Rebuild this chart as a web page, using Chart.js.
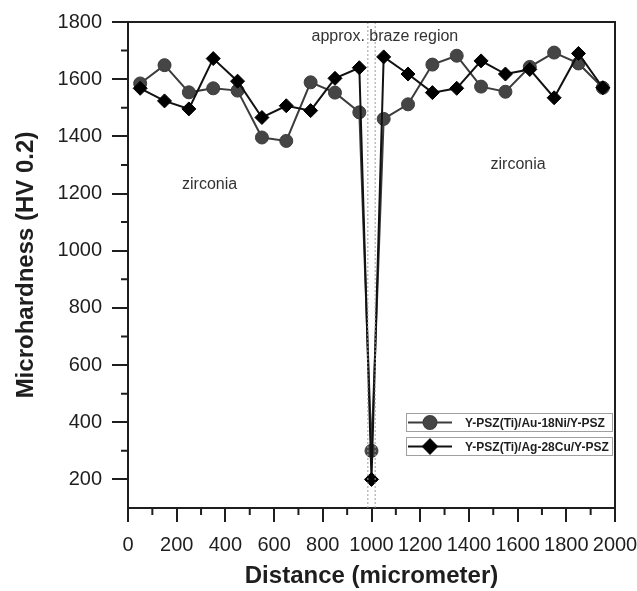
<!DOCTYPE html>
<html>
<head>
<meta charset="utf-8">
<script src="https://cdn.jsdelivr.net/npm/chart.js@4.4.1/dist/chart.umd.min.js"></script>
<style>
html, body { margin: 0; padding: 0; background: #fff; }
</style>
</head>
<body>
<canvas id="hardnessChart" width="637" height="591"></canvas>
<script>
// indent positions across the joint (micrometer)
const distance = [50, 150, 250, 350, 450, 550, 650, 750, 850, 950,
    1000,
    1050, 1150, 1250, 1350, 1450, 1550, 1650, 1750, 1850, 1950];

// HV 0.2 values
const auNiHardness = [1585, 1649, 1554, 1568, 1560, 1396, 1384, 1589, 1553, 1484,
    300,
    1461, 1512, 1651, 1682, 1574, 1556, 1643, 1693, 1655, 1570];
const agCuHardness = [1568, 1524, 1496, 1672, 1593, 1466, 1507, 1490, 1603, 1640,
    200,
    1678, 1618, 1553, 1568, 1664, 1618, 1634, 1535, 1690, 1570];

const seriesNames = ["Y-PSZ(Ti)/Au-18Ni/Y-PSZ", "Y-PSZ(Ti)/Ag-28Cu/Y-PSZ"];

const xTickValues = [0, 200, 400, 600, 800, 1000, 1200, 1400, 1600, 1800, 2000];
const yTickValues = [200, 400, 600, 800, 1000, 1200, 1400, 1600, 1800];

// edges of the braze region (dotted lines)
const brazeEdges = [985, 1015];

// region notes, placed in data units
const noteTexts = ["approx. braze region", "zirconia", "zirconia"];
const noteX = [1055, 335, 1602];
const noteY = [1748, 1232, 1302];

const FONT = "'Liberation Sans', Arial, sans-serif";
const INK = "#1e1e1e";

const toPoints = (xs, ys) => xs.map((x, i) => ({ x: x, y: ys[i] }));

const edgeSets = brazeEdges.map(e => ({
    data: [{ x: e, y: 100 }, { x: e, y: 1800 }],
    borderColor: "#9a9a9a",
    borderWidth: 1,
    borderDash: [2, 2],
    pointRadius: 0,
    showLine: true
}));

// minor ticks, frame, notes and boxed legend
const extras = {
    id: "extras",
    afterDraw(chart) {
        const ctx = chart.ctx;
        const a = chart.chartArea;
        const xs = chart.scales.x;
        const ys = chart.scales.y;
        ctx.save();
        ctx.strokeStyle = INK;
        ctx.lineWidth = 2;

        // frame top + right
        ctx.beginPath();
        ctx.moveTo(a.left, a.top);
        ctx.lineTo(a.right, a.top);
        ctx.lineTo(a.right, a.bottom);
        ctx.stroke();

        // minor ticks halfway between majors
        ctx.beginPath();
        for (let i = 0; i < xTickValues.length - 1; i++) {
            const px = xs.getPixelForValue((xTickValues[i] + xTickValues[i + 1]) / 2);
            ctx.moveTo(px, a.bottom);
            ctx.lineTo(px, a.bottom + 7);
        }
        const yMinor = [300, 500, 700, 900, 1100, 1300, 1500, 1700];
        yMinor.forEach(v => {
            const py = ys.getPixelForValue(v);
            ctx.moveTo(a.left, py);
            ctx.lineTo(a.left - 7, py);
        });
        ctx.stroke();

        // notes
        ctx.fillStyle = "#333";
        ctx.font = "16px " + FONT;
        ctx.textAlign = "center";
        ctx.textBaseline = "middle";
        noteTexts.forEach((t, i) => {
            ctx.fillText(t, xs.getPixelForValue(noteX[i]), ys.getPixelForValue(noteY[i]));
        });

        // legend, one box per series
        const sets = chart.data.datasets;
        ctx.font = "bold 12px " + FONT;
        ctx.textAlign = "left";
        for (let i = 0; i < 2; i++) {
            const ds = sets[i];
            const bx = a.right - 209, by = a.bottom - 95 + i * 24, bw = 206, bh = 18;
            ctx.strokeStyle = "#a0a0a0";
            ctx.lineWidth = 1;
            ctx.strokeRect(bx + 0.5, by + 0.5, bw, bh);
            const cy = by + bh / 2 + 0.5;
            ctx.strokeStyle = ds.borderColor;
            ctx.lineWidth = 2;
            ctx.beginPath();
            ctx.moveTo(bx + 2, cy);
            ctx.lineTo(bx + 46, cy);
            ctx.stroke();
            Chart.helpers.drawPoint(ctx, {
                pointStyle: ds.pointStyle,
                radius: ds.pointRadius,
                borderWidth: 1
            }, bx + 24, cy);
            ctx.fillStyle = ds.pointBackgroundColor;
            ctx.fill();
            ctx.fillStyle = INK;
            ctx.fillText(seriesNames[i], bx + 59, cy + 1);
        }
        ctx.restore();
    }
};

new Chart(document.getElementById("hardnessChart"), {
    type: "scatter",
    data: {
        datasets: [{
            label: seriesNames[0],
            data: toPoints(distance, auNiHardness),
            showLine: true,
            borderColor: "#3c3c3c",
            borderWidth: 2,
            pointStyle: "circle",
            pointRadius: 6.5,
            pointBackgroundColor: "#454545",
            pointBorderColor: "#3c3c3c",
            pointBorderWidth: 1,
            order: 2
        }, {
            label: seriesNames[1],
            data: toPoints(distance, agCuHardness),
            showLine: true,
            borderColor: "#111",
            borderWidth: 2,
            pointStyle: "rectRot",
            pointRadius: 7,
            pointBackgroundColor: "#000",
            pointBorderColor: "#000",
            pointBorderWidth: 1,
            order: 1
        }].concat(edgeSets)
    },
    options: {
        responsive: false,
        animation: false,
        devicePixelRatio: 1,
        layout: { padding: { left: 0, right: 22, top: 20, bottom: 0 } },
        plugins: {
            legend: { display: false },
            tooltip: { enabled: false }
        },
        scales: {
            x: {
                type: "linear",
                min: 0,
                max: 2000,
                afterBuildTicks: s => { s.ticks = xTickValues.map(v => ({ value: v })); },
                afterFit: s => { s.height = 83; s.paddingLeft = 0; s.paddingRight = 0; },
                grid: { drawOnChartArea: false, drawTicks: true, tickLength: 14, color: INK, lineWidth: 2 },
                border: { display: true, color: INK, width: 2 },
                ticks: {
                    color: INK, font: { family: FONT, size: 20 }, padding: 11,
                    maxRotation: 0, autoSkip: false,
                    callback: v => String(v)
                },
                title: {
                    display: true,
                    text: "Distance (micrometer)",
                    color: INK,
                    font: { family: FONT, size: 24, weight: "bold" },
                    padding: { top: 0, bottom: 0 }
                }
            },
            y: {
                type: "linear",
                min: 100,
                max: 1800,
                afterBuildTicks: s => { s.ticks = yTickValues.map(v => ({ value: v })); },
                afterFit: s => { s.width = 128; },
                grid: { drawOnChartArea: false, drawTicks: true, tickLength: 16, color: INK, lineWidth: 2 },
                border: { display: true, color: INK, width: 2 },
                ticks: {
                    color: INK, font: { family: FONT, size: 20 }, padding: 10, autoSkip: false,
                    callback: v => String(v)
                },
                title: {
                    display: true,
                    text: "Microhardness (HV 0.2)",
                    color: INK,
                    font: { family: FONT, size: 24, weight: "bold" },
                    padding: { top: 12, bottom: 0 }
                }
            }
        }
    },
    plugins: [extras]
});
</script>
</body>
</html>
